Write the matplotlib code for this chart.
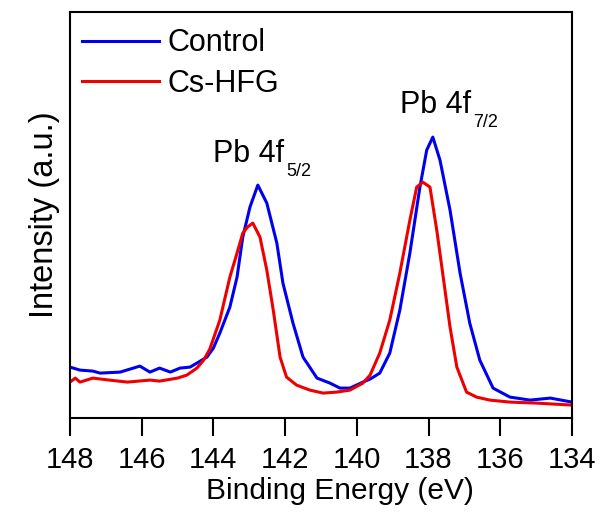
import numpy as np
import matplotlib
matplotlib.use("Agg")
import matplotlib.pyplot as plt

plt.rcParams['font.family'] = ['Liberation Sans', 'DejaVu Sans']

# Pb 4f spectra (binding energy in eV, intensity in a.u.)
control_e = [148.0, 147.72, 147.36, 147.16, 146.6, 146.05, 145.77, 145.5, 145.2, 144.93,
             144.65, 144.46, 144.18, 144.0, 143.82, 143.54, 143.34, 143.18, 142.98, 142.76,
             142.51, 142.23, 142.06, 141.78, 141.5, 141.11, 140.75, 140.47, 140.19, 139.83,
             139.63, 139.36, 139.08, 138.8, 138.52, 138.24, 138.05, 137.88, 137.68, 137.4,
             137.12, 136.85, 136.57, 136.2, 135.73, 135.17, 134.6, 134.0]
control_i = [51, 48, 47, 45, 46, 52, 46, 50, 46, 50,
             51, 55, 61, 70, 85, 111, 141, 181, 211, 233,
             215, 175, 135, 95, 61, 40, 35, 30, 30, 36,
             39, 45, 65, 108, 165, 231, 268, 281, 258, 208,
             145, 95, 58, 30, 21, 18, 20, 16]

cshfg_e = [148.0, 147.85, 147.72, 147.36, 146.9, 146.4, 145.77, 145.5, 145.0, 144.74,
           144.46, 144.27, 144.1, 143.82, 143.54, 143.34, 143.18, 143.05, 142.9, 142.7,
           142.51, 142.33, 142.14, 141.96, 141.68, 141.31, 140.94, 140.56, 140.19, 139.83,
           139.63, 139.36, 139.08, 138.8, 138.52, 138.33, 138.16, 137.96, 137.77, 137.59,
           137.4, 137.21, 136.94, 136.66, 136.29, 135.73, 135.0, 134.0]
cshfg_i = [36, 40, 36, 40, 38, 36, 38, 37, 40, 43,
           50, 58, 69, 98, 141, 165, 185, 191, 195, 181,
           148, 108, 61, 41, 33, 28, 25, 26, 28, 35,
           43, 65, 98, 145, 198, 231, 236, 231, 188, 141,
           91, 51, 26, 21, 18, 16, 15, 13]

xticks = [148, 146, 144, 142, 140, 138, 136, 134]

# peak labels: (main text, subscript, x, y)
peak_labels = [("Pb 4f", "5/2", 144.0, 256),
               ("Pb 4f", "7/2", 138.8, 305)]

fig = plt.figure(figsize=(6.03, 5.13), dpi=100)
ax = fig.add_axes([0.116, 0.185, 0.8325, 0.7914])

ax.plot(control_e, control_i, color='#0000ee', lw=2.2, label='Control')
ax.plot(cshfg_e, cshfg_i, color='#ee0000', lw=2.2, label='Cs-HFG')

ax.set_xlim(148, 134)
ax.set_ylim(0, 406)
ax.set_xticks(xticks)
ax.set_yticks([])
ax.tick_params(axis='x', direction='out', length=13, width=1.5, labelsize=21, pad=7,
               top=False)
for s in ax.spines.values():
    s.set_linewidth(1.5)

ax.set_xlabel('Binding Energy (eV)', fontsize=21.5, labelpad=2)
ax.xaxis.label.set_x(0.538)
ax.set_ylabel('Intensity (a.u.)', fontsize=23.5, labelpad=7)

ax.legend(loc='upper left', bbox_to_anchor=(0.0, 0.99), frameon=False, fontsize=22,
          handlelength=2.5, handletextpad=0.3, labelspacing=0.35, borderaxespad=0)

# main text + lowered subscript
renderer = fig.canvas.get_renderer()
for main, sub, x, y in peak_labels:
    t = ax.text(x, y, main, fontsize=22, ha='left', va='baseline')
    x1 = t.get_window_extent(renderer).x1
    yb = ax.transData.transform((x, y))[1]
    fig.text((x1 + 2) / fig.bbox.width, (yb - 14) / fig.bbox.height, sub,
             fontsize=13, ha='left', va='baseline')

fig.savefig('out.png', dpi=100)
